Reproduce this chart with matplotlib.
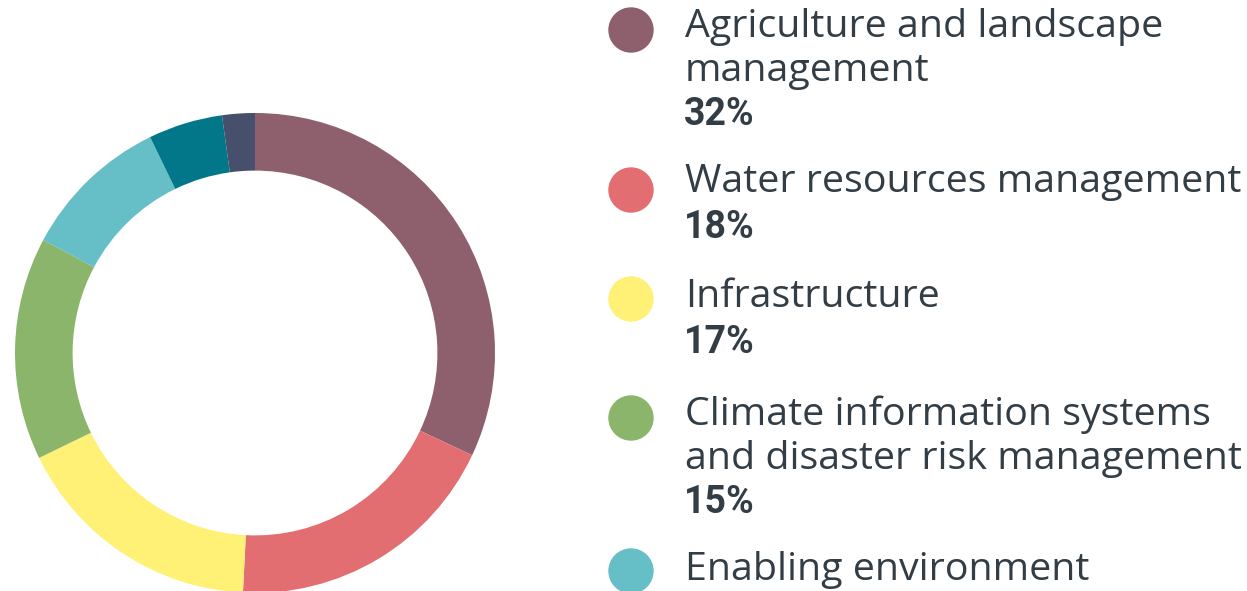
import matplotlib.pyplot as plt
from matplotlib.patches import Ellipse

# shares of funding by area (pie read from the ring, labels as printed)
categories = ['Agriculture and landscape\nmanagement', 'Water resources management', 'Infrastructure',
              'Climate information systems\nand disaster risk management', 'Enabling environment',
              'Other', 'Other 2']
values = [32, 18.8, 17, 15, 10, 5, 2.2]
pct_labels = ['32%', '18%', '17%', '15%', None]
colors = ['#8E5F6D', '#E36E71', '#FFF176', '#8AB56A', '#66BEC6', '#017789', '#464F6B']

W, H = 1247, 591
fig = plt.figure(figsize=(W / 100, H / 100), dpi=100)

# donut
cx, cy, r = 255, 353, 240
ax = fig.add_axes([(cx - r) / W, (H - cy - r) / H, 2 * r / W, 2 * r / H])
ax.pie(values, colors=colors, startangle=90, counterclock=False,
       wedgeprops=dict(width=0.24, edgecolor='none'))
ax.set_xlim(-1, 1)
ax.set_ylim(-1, 1)
ax.set_aspect('equal')
ax.axis('off')

txt_col = '#333D45'
label_font = ['Open Sans', 'DejaVu Sans']
pct_font = ['Roboto', 'DejaVu Sans']

# fit label size so the longest line is as wide as in the original (~555 px)
renderer = fig.canvas.get_renderer()
probe = fig.text(0, 0, 'Water resources management', fontsize=20, family=label_font)
wpx = probe.get_window_extent(renderer).width
probe.remove()
label_size = 20 * 555 / wpx

# legend rows: (circle centre y, first baseline y, percentage baseline y), pixels from top
rows = [(30, 37, 125), (190, 192, 238), (299, 307, 353), (418, 425, 513), (571, 580, None)]
line_gap = 44

for i, (yc, y0, yp) in enumerate(rows):
    circ = Ellipse((631 / W, 1 - yc / H), 44 / W, 44 / H, transform=fig.transFigure,
                   color=colors[i], clip_on=False)
    fig.patches.append(circ)
    for j, line in enumerate(categories[i].split('\n')):
        fig.text(685 / W, 1 - (y0 + j * line_gap) / H, line, fontsize=label_size,
                 family=label_font, color=txt_col, va='baseline', ha='left')
    if pct_labels[i] is not None:
        fig.text(684 / W, 1 - yp / H, pct_labels[i], fontsize=27,
                 family=pct_font, weight='bold', color=txt_col, va='baseline', ha='left')

fig.savefig('out.png', dpi=100)
